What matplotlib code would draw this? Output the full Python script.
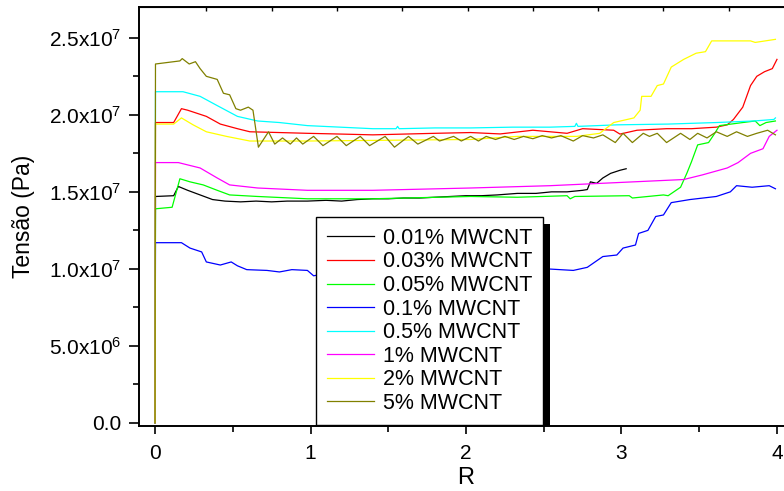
import numpy as np
import matplotlib
matplotlib.use('Agg')
import matplotlib.pyplot as plt
from matplotlib.ticker import FuncFormatter, MultipleLocator
from matplotlib.patches import Rectangle
from matplotlib.transforms import IdentityTransform

plt.rcParams['font.family'] = ['Liberation Sans', 'DejaVu Sans']
plt.rcParams['mathtext.fontset'] = 'custom'
plt.rcParams['mathtext.rm'] = 'Liberation Sans'
plt.rcParams['mathtext.it'] = 'Liberation Sans:italic'

# stress curves (Pa, in units of 1e7) against R for each MWCNT loading
labels = ['0.01% MWCNT', '0.03% MWCNT', '0.05% MWCNT', '0.1% MWCNT',
          '0.5% MWCNT', '1% MWCNT', '2% MWCNT', '5% MWCNT']
colors = ['#000000', '#FF0000', '#00FF00', '#0000FF',
          '#00FFFF', '#FF00FF', '#FFFF00', '#808000']

r_001 = [0, 0.003, 0.12, 0.15, 0.21, 0.29, 0.37, 0.45, 0.55, 0.65, 0.75, 0.85,
         0.98, 1.1, 1.2, 1.3, 1.4, 1.5, 1.6, 1.7, 1.8, 1.9, 2.0, 2.1, 2.2, 2.33,
         2.45, 2.55, 2.65, 2.75, 2.78, 2.80, 2.84, 2.88, 2.93, 2.99, 3.03]
s_001 = [0, 1.47, 1.475, 1.535, 1.51, 1.48, 1.45, 1.44, 1.435, 1.44, 1.435, 1.44,
         1.44, 1.445, 1.44, 1.45, 1.455, 1.455, 1.46, 1.46, 1.465, 1.47, 1.475, 1.475,
         1.48, 1.49, 1.49, 1.50, 1.50, 1.51, 1.515, 1.565, 1.555, 1.59, 1.62, 1.64, 1.65]

r_003 = [0, 0.003, 0.12, 0.17, 0.21, 0.27, 0.33, 0.42, 0.53, 0.61, 0.80, 0.98,
         1.2, 1.40, 1.6, 1.8, 2.03, 2.22, 2.43, 2.65, 2.75, 2.95, 2.99, 3.10, 3.29,
         3.45, 3.61, 3.68, 3.72, 3.78, 3.83, 3.87, 3.92, 3.97, 4.0]
s_003 = [0, 1.95, 1.95, 2.04, 2.03, 2.01, 1.99, 1.94, 1.91, 1.89, 1.885, 1.88,
         1.875, 1.87, 1.875, 1.88, 1.885, 1.876, 1.90, 1.88, 1.91, 1.90, 1.875, 1.90,
         1.91, 1.91, 1.92, 1.935, 1.97, 2.05, 2.19, 2.25, 2.28, 2.30, 2.36]

r_005 = [0, 0.003, 0.11, 0.16, 0.225, 0.31, 0.40, 0.48, 0.66, 0.98, 1.40, 2.03,
         2.33, 2.65, 2.67, 2.70, 3.05, 3.07, 3.27, 3.30, 3.38, 3.42, 3.45, 3.49,
         3.56, 3.60, 3.63, 3.78, 3.86, 3.89, 3.93, 3.99]
s_005 = [0, 1.39, 1.40, 1.585, 1.565, 1.545, 1.51, 1.48, 1.47, 1.455, 1.455, 1.47,
         1.465, 1.475, 1.455, 1.47, 1.475, 1.46, 1.48, 1.475, 1.53, 1.62, 1.695, 1.805,
         1.82, 1.88, 1.93, 1.95, 1.96, 1.93, 1.95, 1.96]

r_01 = [0, 0.003, 0.17, 0.225, 0.30, 0.33, 0.42, 0.49, 0.53, 0.59, 0.72, 0.80,
        0.88, 0.98, 1.02, 1.2, 1.5, 1.8, 2.1, 2.3, 2.52, 2.69, 2.78, 2.88, 2.97,
        3.01, 3.09, 3.11, 3.17, 3.22, 3.27, 3.32, 3.44, 3.61, 3.70, 3.74, 3.84,
        3.95, 3.99]
s_01 = [0, 1.17, 1.17, 1.135, 1.11, 1.045, 1.025, 1.045, 1.02, 0.995, 0.99, 0.98,
        0.995, 0.99, 0.955, 0.99, 0.98, 0.99, 0.99, 1.0, 1.0, 0.99, 1.01, 1.08, 1.09,
        1.135, 1.155, 1.23, 1.25, 1.34, 1.35, 1.43, 1.45, 1.47, 1.50, 1.54, 1.53,
        1.54, 1.52]

r_05 = [0, 0.003, 0.18, 0.29, 0.40, 0.53, 0.66, 0.80, 0.98, 1.19, 1.40, 1.55,
        1.56, 1.57, 1.8, 2.03, 2.3, 2.54, 2.70, 2.71, 2.72, 2.97, 3.3, 3.61, 3.85,
        3.98, 3.99]
s_05 = [0, 2.15, 2.15, 2.12, 2.06, 1.99, 1.96, 1.95, 1.93, 1.92, 1.91, 1.91,
        1.925, 1.91, 1.915, 1.915, 1.92, 1.92, 1.925, 1.945, 1.925, 1.935, 1.94,
        1.95, 1.96, 1.97, 1.98]

r_1 = [0, 0.003, 0.15, 0.29, 0.40, 0.48, 0.66, 0.98, 1.40, 2.03, 2.54, 2.97,
       3.40, 3.52, 3.68, 3.75, 3.83, 3.91, 3.95, 4.0]
s_1 = [0, 1.69, 1.69, 1.655, 1.59, 1.545, 1.525, 1.51, 1.51, 1.525, 1.54, 1.56,
       1.58, 1.61, 1.655, 1.69, 1.75, 1.78, 1.86, 1.90]

r_2 = [0, 0.003, 0.12, 0.17, 0.245, 0.33, 0.46, 0.61, 0.98, 1.5, 2.03, 2.33,
       2.71, 2.86, 2.95, 3.08, 3.12, 3.13, 3.19, 3.23, 3.27, 3.32, 3.40, 3.48,
       3.54, 3.58, 3.83, 3.86, 3.99]
s_2 = [0, 1.94, 1.94, 1.98, 1.935, 1.89, 1.86, 1.83, 1.83, 1.835, 1.84, 1.86,
       1.86, 1.88, 1.95, 1.98, 2.03, 2.12, 2.12, 2.19, 2.20, 2.31, 2.36, 2.40,
       2.41, 2.48, 2.48, 2.47, 2.49]

r_5 = [0, 0.003, 0.16, 0.175, 0.22, 0.26, 0.29, 0.33, 0.40, 0.44, 0.48, 0.52,
       0.55, 0.60, 0.63, 0.665, 0.73, 0.77, 0.82, 0.87, 0.91, 0.95, 1.02, 1.08,
       1.17, 1.23, 1.32, 1.38, 1.48, 1.54, 1.63, 1.69, 1.79, 1.83, 1.92, 1.97,
       2.03, 2.08, 2.13, 2.19, 2.25, 2.31, 2.37, 2.43, 2.49, 2.55, 2.61, 2.69,
       2.75, 2.82, 2.88, 2.96, 3.01, 3.07, 3.14, 3.18, 3.23, 3.29, 3.38, 3.44,
       3.49, 3.55, 3.61, 3.68, 3.74, 3.81, 3.87, 3.94, 3.99]
s_5 = [0, 2.33, 2.35, 2.365, 2.33, 2.345, 2.30, 2.25, 2.23, 2.14, 2.13, 2.04,
       2.03, 2.05, 2.03, 1.79, 1.89, 1.81, 1.85, 1.81, 1.85, 1.81, 1.86, 1.80,
       1.86, 1.80, 1.86, 1.80, 1.86, 1.79, 1.86, 1.81, 1.86, 1.83, 1.86, 1.83,
       1.86, 1.83, 1.86, 1.84, 1.86, 1.84, 1.86, 1.845, 1.865, 1.85, 1.865, 1.83,
       1.865, 1.85, 1.87, 1.82, 1.88, 1.82, 1.88, 1.86, 1.88, 1.82, 1.88, 1.84,
       1.88, 1.85, 1.89, 1.86, 1.89, 1.86, 1.88, 1.90, 1.87]

series = [(r_001, s_001), (r_003, s_003), (r_005, s_005), (r_01, s_01),
          (r_05, s_05), (r_1, s_1), (r_2, s_2), (r_5, s_5)]

# minor ticks along the top edge
top_ticks = [0.33, 0.75, 1.17, 1.59, 2.01, 2.43, 2.85, 3.27, 3.69]

fig = plt.figure(figsize=(7.84, 4.91), dpi=100)
ax = fig.add_axes([139 / 784, 65 / 491, 647 / 784, 419 / 491])

for (r, s), lab, c in zip(series, labels, colors):
    ax.plot(r, np.array(s) * 1e7, color=c, lw=0.9, label=lab)

ax.set_xlim(-0.103, 4.058)
ax.set_ylim(-0.02e7, 2.70e7)

def sci_label(v, pos):
    if abs(v) < 1:
        return '0.0'
    e = int(np.floor(np.log10(abs(v))))
    return f'{v / 10**e:.1f}x10$^{{{e}}}$'

ax.yaxis.set_major_locator(MultipleLocator(5e6))
ax.yaxis.set_minor_locator(MultipleLocator(2.5e6))
ax.yaxis.set_major_formatter(FuncFormatter(sci_label))
ax.xaxis.set_major_locator(MultipleLocator(1))
ax.xaxis.set_minor_locator(MultipleLocator(0.5))

ax.tick_params(axis='both', which='major', direction='out', labelsize=15,
               width=1.2, length=7, pad=6)
ax.tick_params(axis='both', which='minor', direction='out', width=1.2, length=4)
ax.tick_params(axis='x', which='major', length=6, pad=7)
for sp in ax.spines.values():
    sp.set_linewidth(1.4)

top = ax.secondary_xaxis('top')
top.set_xticks(top_ticks)
top.set_xticklabels([])
top.tick_params(direction='in', length=3, width=1.0)
top.xaxis.set_minor_locator(plt.NullLocator())

ax.set_ylabel('Tensão (Pa)', fontsize=16.5)
ax.yaxis.set_label_coords(-0.178, 0.50)
ax.yaxis.label.set_verticalalignment('center')
ax.set_xlabel('R', fontsize=17)
ax.xaxis.set_label_coords(0.505, -0.124)
ax.xaxis.label.set_verticalalignment('center')

leg = ax.legend(loc='lower left', bbox_to_anchor=(0.2736, 0.003),
                borderaxespad=0, fontsize=15.5, fancybox=False, edgecolor='black',
                framealpha=1, handlelength=2.2, handletextpad=0.4,
                labelspacing=0.12, borderpad=0.5)
leg.get_frame().set_linewidth(1.0)

# solid drop shadow behind the legend box
fig.canvas.draw()
bb = leg.get_window_extent()
shadow = Rectangle((bb.x0 + 7, bb.y0 - 7), bb.width, bb.height,
                   transform=IdentityTransform(), facecolor='black',
                   edgecolor='none', zorder=leg.get_zorder() - 0.1)
ax.add_patch(shadow)

fig.savefig('out.png', dpi=100)
